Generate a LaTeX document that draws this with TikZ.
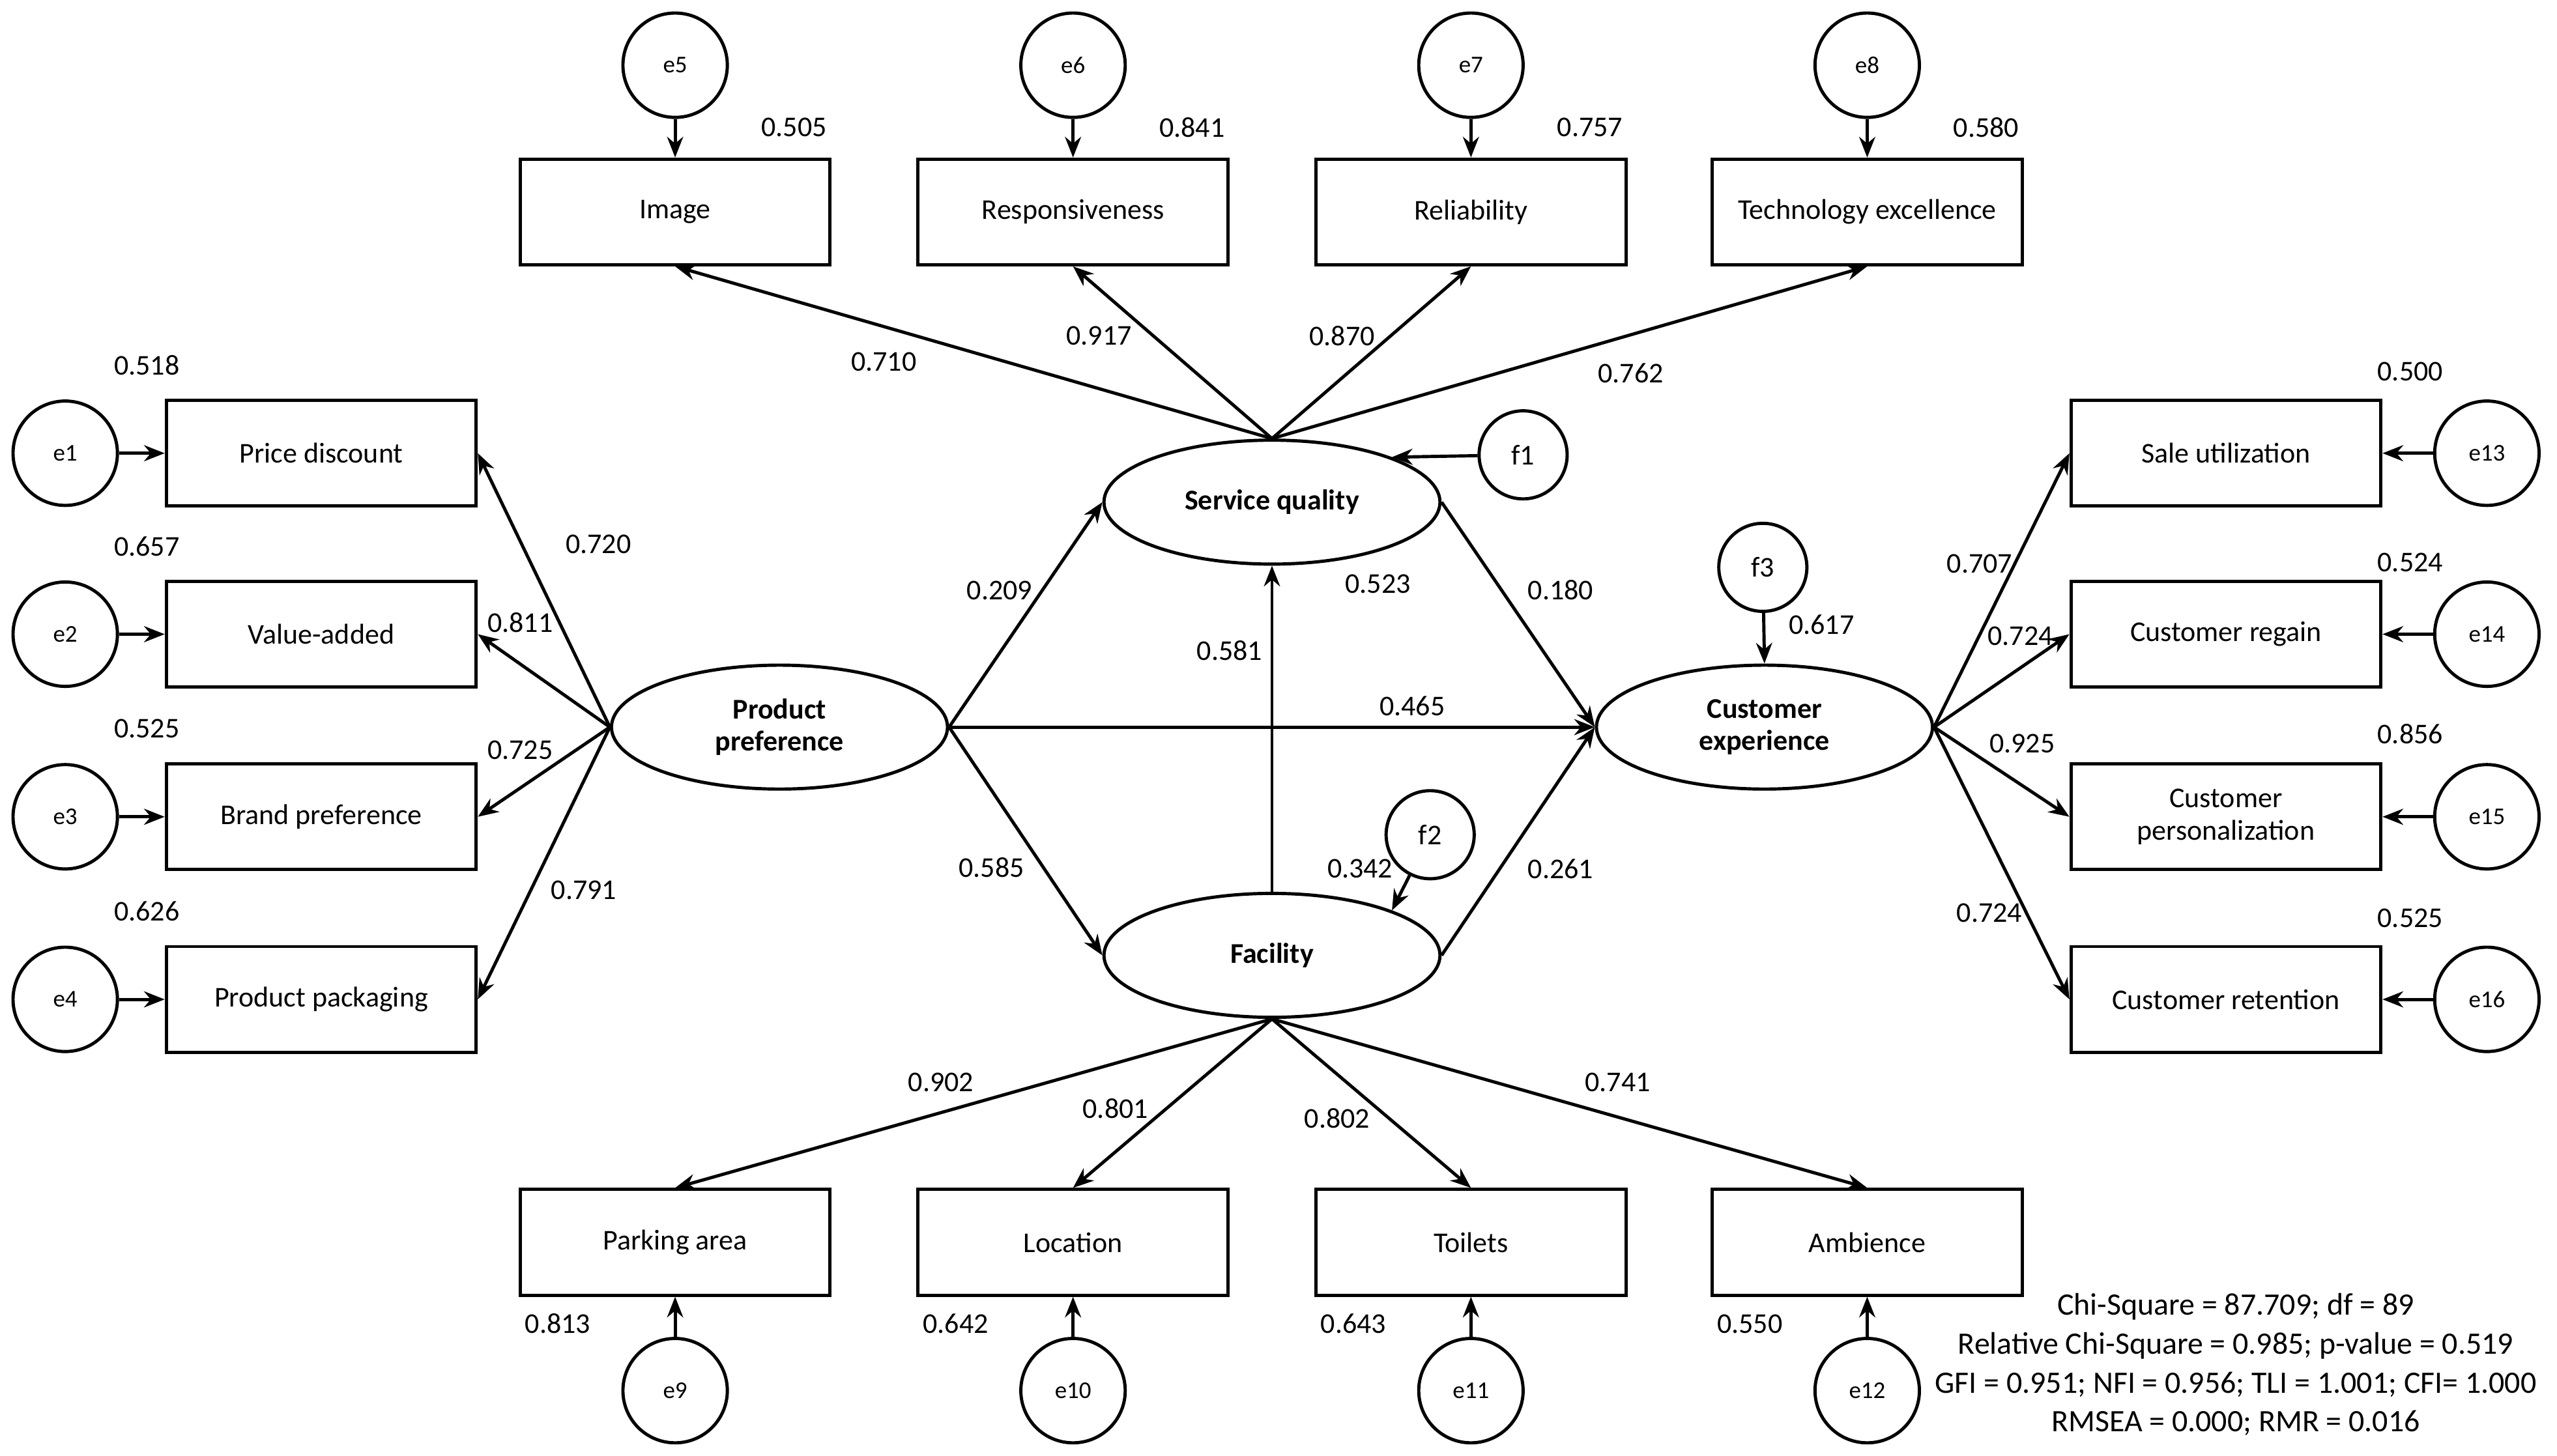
\documentclass[tikz,border=0pt]{standalone}
\usepackage{fontspec}
\setmainfont{Carlito}
\usetikzlibrary{arrows.meta,shapes.geometric}
\begin{document}
\begin{tikzpicture}[x=0.025cm,y=-0.025cm,
 font=\fontsize{12.5}{14}\selectfont,
 box/.style={draw,line width=1.4pt,minimum width=4.75cm,minimum height=1.62cm,align=center},
 lat/.style={draw,ellipse,line width=1.4pt,minimum width=5.15cm,minimum height=1.9cm,align=center,font=\fontsize{12.5}{14}\selectfont\bfseries},
 err/.style={draw,circle,line width=1.4pt,minimum size=1.6cm,inner sep=0pt,font=\fontsize{10.5}{12}\selectfont},
 dis/.style={draw,circle,line width=1.4pt,minimum size=1.35cm,inner sep=0pt},
 arr/.style={line width=1.4pt,-{Stealth[length=9pt,width=7pt]}},
 lab/.style={inner sep=1pt}]
\useasboundingbox (0,0) rectangle (1568,893);
\node[lat] (pp) at (478,446) {Product\\preference};
\node[lat] (sq) at (780,308) {Service quality};
\node[lat] (fa) at (780,586) {Facility};
\node[lat] (ce) at (1082,446) {Customer\\experience};
% top
\foreach \n/\x/\t/\e/\v in {img/414/Image/e5/0.505,res/658/Responsiveness/e6/0.841,rel/902/Reliability/e7/0.757,tec/1145/Technology excellence/e8/0.580}{
 \node[box] (\n) at (\x,130) {\t};
 \node[err] (\e) at (\x,40) {\e};
 \draw[arr] (\e) -- (\n);
 \node[lab] at (\x+73,78) {\v};
 \draw[arr] (sq.north) -- (\n.south);}
% left
\foreach \n/\y/\t/\e/\v in {pd/278/Price discount/e1/0.518,va/389/Value-added/e2/0.657,bp/501/Brand preference/e3/0.525,pk/613/Product packaging/e4/0.626}{
 \node[box] (\n) at (197,\y) {\t};
 \node[err] (\e) at (40,\y) {\e};
 \draw[arr] (\e) -- (\n);
 \node[lab] at (90,\y-54) {\v};
 \draw[arr] (pp.west) -- (\n.east);}
% right
\foreach \n/\y/\t/\e/\v/\ly in {su/278/Sale utilization/e13/0.500/228,cr/389/Customer regain/e14/0.524/345,cp/501/Customer\\personalization/e15/0.856/450,ct/613/Customer retention/e16/0.525/563}{
 \node[box] (\n) at (1365,\y) {\t};
 \node[err] (\e) at (1525,\y) {\e};
 \draw[arr] (\e) -- (\n);
 \node[lab] at (1478,\ly) {\v};
 \draw[arr] (ce.east) -- (\n.west);}
% bottom
\foreach \n/\x/\t/\e/\v in {pa/414/Parking area/e9/0.813,lo/658/Location/e10/0.642,to/902/Toilets/e11/0.643,am/1145/Ambience/e12/0.550}{
 \node[box] (\n) at (\x,762) {\t};
 \node[err] (\e) at (\x,853) {\e};
 \draw[arr] (\e) -- (\n);
 \node[lab] at (\x-72,812) {\v};
 \draw[arr] (fa.south) -- (\n.north);}
% disturbances
\node[dis] (f1) at (934,279) {f1};
\node[dis] (f2) at (877,512) {f2};
\node[dis] (f3) at (1081,348) {f3};
\draw[arr] (f1) -- (sq.north east);
\draw[arr] (f2) -- (fa.north east);
\draw[arr] (f3) -- (ce.north);
% structural
\draw[arr] (pp.east) -- (sq.west);
\draw[arr] (pp.east) -- (fa.west);
\draw[arr] (pp.east) -- (ce.west);
\draw[arr] (sq.east) -- (ce.west);
\draw[arr] (fa.east) -- (ce.west);
\draw[arr] (fa.north) -- (sq.south);
% labels
\foreach \x/\y/\v in {542/222/0.710,674/206/0.917,823/206/0.870,1000/229/0.762,
 367/334/0.720,319/382/0.811,319/460/0.725,358/546/0.791,
 613/362/0.209,608/532/0.585,754/399/0.581,845/358/0.523,866/433/0.465,957/362/0.180,
 834/533/0.342,957/533/0.261,1117/383/0.617,
 1214/346/0.707,1239/390/0.724,1240/456/0.925,1220/560/0.724,
 577/664/0.902,684/680/0.801,820/686/0.802,992/664/0.741}
 \node[lab] at (\x,\y) {\v};
\node[align=center,inner sep=0pt,font=\fontsize{13.6}{17}\selectfont] (st) at (1371,837) {Chi-Square = 87.709; df = 89\\Relative Chi-Square = 0.985; p-value = 0.519\\GFI = 0.951; NFI = 0.956; TLI = 1.001; CFI= 1.000\\RMSEA = 0.000; RMR = 0.016};
\end{tikzpicture}
\end{document}
